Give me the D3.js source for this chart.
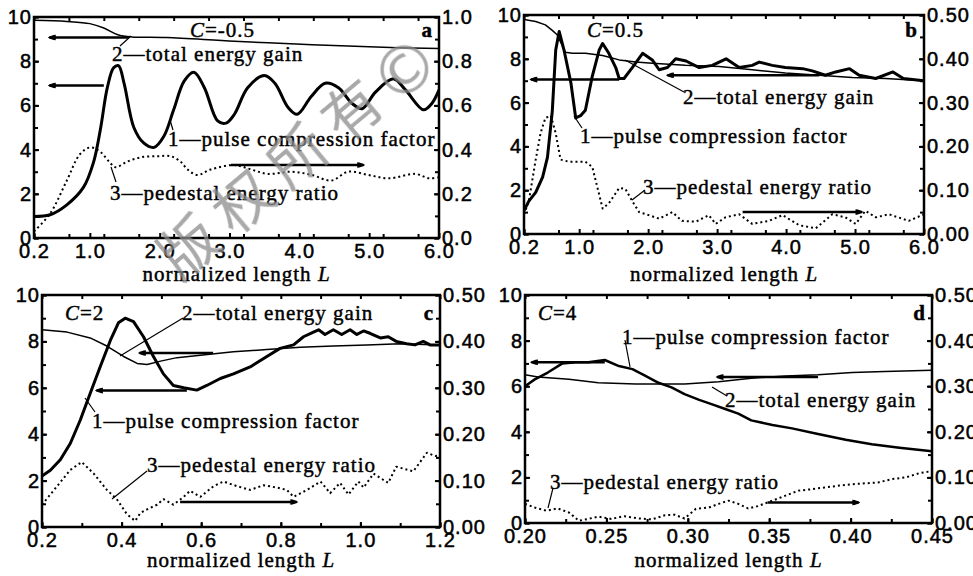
<!DOCTYPE html>
<html>
<head>
<meta charset="utf-8">
<script src="https://cdn.jsdelivr.net/npm/d3@7"></script>
<style>
  body { margin: 0; background: #fff; }
  svg { display: block; font-family: "Liberation Serif", "Times New Roman", serif; }
  .tick text { font-size: 20px; letter-spacing: 1px; fill: #000; stroke: #000; stroke-width: 0.5px; }
  .tick line { stroke: #000; stroke-width: 2px; }
  .lbl { font-size: 21px; letter-spacing: 1px; fill: #000; stroke: #000; stroke-width: 0.45px; }
</style>
</head>
<body>
<svg id="chart" width="973" height="576"></svg>
<script>
// ---- panel a, C=-0.5 ----
const aPulseL = [0.2, 0.43, 0.67, 0.91, 1.05, 1.15, 1.25, 1.34, 1.41, 1.49, 1.63, 1.77, 1.92, 2.06, 2.2, 2.35, 2.49, 2.64, 2.83, 2.95, 3.07, 3.26, 3.5, 3.65, 3.84, 3.97, 4.17, 4.37, 4.56, 4.75, 4.9, 5.09, 5.35, 5.52, 5.78, 5.9, 6.0];
const aPulse = [0.97, 1.05, 1.5, 2.3, 3.4, 4.9, 6.8, 7.7, 7.8, 7.0, 5.0, 4.3, 4.1, 4.6, 5.8, 7.1, 7.5, 6.8, 5.3, 5.2, 5.6, 6.8, 7.35, 7.0, 5.9, 5.6, 6.4, 7.0, 6.8, 6.1, 5.85, 6.6, 7.2, 6.7, 5.8, 6.1, 6.7];
const aGainL = [0.2, 0.67, 1.0, 1.2, 1.4, 1.6, 2.1, 3.07, 4.03, 5.0, 6.0];
const aGain = [9.85, 9.8, 9.7, 9.5, 9.2, 9.1, 9.07, 8.9, 8.77, 8.65, 8.57];
const aPedL = [0.2, 0.43, 0.67, 0.86, 1.01, 1.15, 1.29, 1.37, 1.53, 1.73, 1.97, 2.16, 2.3, 2.4, 2.54, 2.73, 3.07, 3.31, 3.55, 3.89, 4.18, 4.46, 4.7, 4.99, 5.28, 5.66, 5.86, 6.0];
const aPed = [0.03, 0.11, 0.26, 0.38, 0.41, 0.39, 0.34, 0.32, 0.345, 0.365, 0.37, 0.37, 0.345, 0.31, 0.285, 0.31, 0.33, 0.31, 0.29, 0.30, 0.285, 0.26, 0.30, 0.285, 0.27, 0.29, 0.27, 0.275];
const aXTicks = [0.2, 1.0, 2.0, 3.0, 4.0, 5.0, 6.0];
const aRTicks = [0, 0.2, 0.4, 0.6, 0.8, 1.0];

// ---- panel b, C=0.5 ----
const bPulseL = [0.2, 0.27, 0.37, 0.47, 0.54, 0.61, 0.66, 0.71, 0.78, 0.88, 0.95, 1.02, 1.09, 1.19, 1.29, 1.34, 1.43, 1.53, 1.58, 1.65, 1.77, 1.92, 2.06, 2.16, 2.28, 2.4, 2.55, 2.74, 2.93, 3.13, 3.32, 3.51, 3.61, 3.8, 3.99, 4.24, 4.38, 4.57, 4.72, 4.92, 5.06, 5.3, 5.55, 5.7, 6.0];
const bPulse = [1.07, 1.5, 1.9, 2.6, 3.5, 5.6, 8.4, 9.25, 8.4, 6.9, 5.3, 5.4, 5.65, 7.2, 8.4, 8.7, 8.25, 7.6, 7.1, 7.1, 7.6, 8.25, 7.95, 7.5, 7.6, 8.0, 7.9, 7.6, 7.7, 8.0, 7.6, 7.7, 7.85, 7.7, 7.6, 7.55, 7.45, 7.25, 7.4, 7.55, 7.25, 7.1, 7.4, 7.1, 7.0];
const bGainL = [0.2, 0.37, 0.51, 0.61, 0.68, 0.8, 0.9, 1.09, 1.34, 1.58, 1.82, 2.06, 2.54, 3.03, 3.51, 3.99, 4.48, 4.96, 5.44, 6.0];
const bGain = [9.8, 9.7, 9.55, 9.3, 9.1, 8.3, 8.25, 8.25, 8.15, 7.95, 7.85, 7.8, 7.7, 7.65, 7.5, 7.35, 7.25, 7.15, 7.1, 7.0];
const bPedL = [0.2, 0.27, 0.37, 0.44, 0.51, 0.59, 0.66, 0.73, 0.85, 1.09, 1.19, 1.29, 1.34, 1.43, 1.58, 1.67, 1.77, 1.87, 2.01, 2.16, 2.35, 2.49, 2.69, 2.88, 2.98, 3.12, 3.32, 3.51, 3.75, 3.95, 4.19, 4.43, 4.67, 4.86, 5.01, 5.15, 5.3, 5.49, 5.78, 6.0];
const bPed = [0.045, 0.075, 0.17, 0.23, 0.265, 0.27, 0.23, 0.17, 0.165, 0.165, 0.153, 0.09, 0.058, 0.07, 0.105, 0.103, 0.075, 0.05, 0.043, 0.035, 0.05, 0.03, 0.028, 0.043, 0.023, 0.038, 0.045, 0.023, 0.03, 0.043, 0.02, 0.013, 0.045, 0.038, 0.023, 0.053, 0.038, 0.045, 0.03, 0.045];
const bXTicks = [0.2, 1.0, 2.0, 3.0, 4.0, 5.0, 6.0];
const bRTicks = [0, 0.1, 0.2, 0.3, 0.4, 0.5];

// ---- panel c, C=2 ----
const cPulseL = [0.2, 0.221, 0.246, 0.271, 0.296, 0.321, 0.346, 0.372, 0.392, 0.409, 0.43, 0.455, 0.48, 0.505, 0.53, 0.556, 0.589, 0.614, 0.648, 0.681, 0.723, 0.765, 0.798, 0.832, 0.857, 0.882, 0.895, 0.911, 0.932, 0.953, 0.974, 0.991, 1.008, 1.024, 1.05, 1.07, 1.09, 1.116, 1.137, 1.158, 1.175, 1.2];
const cPulse = [2.2, 2.45, 2.9, 3.6, 4.6, 5.75, 6.9, 8.05, 8.8, 9.0, 8.85, 8.2, 7.35, 6.6, 6.1, 6.0, 5.9, 6.1, 6.4, 6.6, 6.9, 7.35, 7.7, 7.85, 8.2, 8.4, 8.5, 8.3, 8.5, 8.3, 8.5, 8.3, 8.45, 8.35, 8.15, 8.2, 8.0, 7.9, 7.85, 8.0, 7.85, 7.85];
const cGainL = [0.2, 0.263, 0.321, 0.363, 0.405, 0.439, 0.464, 0.498, 0.539, 0.598, 0.681, 0.765, 0.849, 0.932, 1.016, 1.1, 1.2];
const cGain = [8.5, 8.4, 8.15, 7.8, 7.35, 7.05, 7.0, 7.15, 7.3, 7.4, 7.55, 7.65, 7.75, 7.8, 7.85, 7.9, 7.85];
const cPedL = [0.2, 0.238, 0.271, 0.3, 0.33, 0.363, 0.388, 0.413, 0.434, 0.447, 0.464, 0.489, 0.505, 0.53, 0.556, 0.572, 0.598, 0.631, 0.656, 0.69, 0.723, 0.757, 0.79, 0.815, 0.832, 0.866, 0.9, 0.924, 0.949, 0.97, 0.995, 1.008, 1.033, 1.07, 1.09, 1.133, 1.167, 1.188, 1.2];
const cPed = [0.048, 0.088, 0.123, 0.14, 0.115, 0.08, 0.06, 0.028, 0.013, 0.03, 0.038, 0.048, 0.06, 0.048, 0.065, 0.078, 0.065, 0.088, 0.098, 0.088, 0.08, 0.09, 0.085, 0.08, 0.065, 0.08, 0.098, 0.073, 0.095, 0.07, 0.098, 0.085, 0.115, 0.095, 0.13, 0.12, 0.16, 0.153, 0.155];
const cXTicks = [0.2, 0.4, 0.6, 0.8, 1.0, 1.2];
const cRTicks = [0, 0.1, 0.2, 0.3, 0.4, 0.5];

// ---- panel d, C=4 ----
const dPulseL = [0.2, 0.206, 0.214, 0.223, 0.231, 0.239, 0.249, 0.257, 0.266, 0.274, 0.282, 0.29, 0.298, 0.307, 0.315, 0.323, 0.331, 0.339, 0.352, 0.364, 0.38, 0.397, 0.413, 0.43, 0.45];
const dPulse = [6.0, 6.3, 6.6, 7.0, 7.05, 7.05, 7.15, 6.9, 6.75, 6.45, 6.15, 5.95, 5.65, 5.4, 5.2, 5.0, 4.8, 4.5, 4.3, 4.15, 3.9, 3.65, 3.45, 3.3, 3.15];
const dGainL = [0.2, 0.208, 0.227, 0.245, 0.268, 0.298, 0.319, 0.339, 0.36, 0.38, 0.401, 0.421, 0.45];
const dGain = [6.5, 6.4, 6.3, 6.15, 6.1, 6.1, 6.2, 6.35, 6.45, 6.5, 6.6, 6.65, 6.7];
const dPedL = [0.2, 0.206, 0.213, 0.22, 0.227, 0.233, 0.239, 0.245, 0.253, 0.261, 0.27, 0.278, 0.286, 0.292, 0.298, 0.305, 0.313, 0.319, 0.325, 0.331, 0.337, 0.343, 0.352, 0.36, 0.368, 0.376, 0.384, 0.393, 0.401, 0.409, 0.417, 0.425, 0.434, 0.442, 0.45];
const dPed = [0.042, 0.034, 0.027, 0.032, 0.023, 0.005, 0.009, 0.014, 0.009, 0.015, 0.01, 0.008, 0.017, 0.018, 0.01, 0.031, 0.034, 0.042, 0.049, 0.042, 0.032, 0.037, 0.049, 0.06, 0.071, 0.074, 0.078, 0.082, 0.085, 0.087, 0.089, 0.096, 0.1, 0.109, 0.114];
const dXTicks = [0.20, 0.25, 0.30, 0.35, 0.40, 0.45];
const dRTicks = [0, 0.1, 0.2, 0.3, 0.4, 0.5];

const leftTicks = [0, 2, 4, 6, 8, 10];

const svg = d3.select(`#chart`);

const defs = svg.append(`defs`);
defs.append(`marker`)
  .attr(`id`, `head`)
  .attr(`viewBox`, `0 -5 10 10`)
  .attr(`refX`, 8)
  .attr(`markerUnits`, `userSpaceOnUse`)
  .attr(`markerWidth`, 11)
  .attr(`markerHeight`, 8)
  .attr(`orient`, `auto`)
  .append(`path`)
    .attr(`d`, `M0,-3.5C4,-3.5 7,-1.5 10,0C7,1.5 4,3.5 0,3.5Z`)
    .attr(`fill`, `#000`);

class Panel {
  constructor(opts) {
    Object.assign(this, opts);
    this.g = svg.append(`g`).attr(`class`, `panel panel-${this.id}`);
  }

  render() {
    const b = this.box;
    this.x = d3.scaleLinear().domain(this.xDomain).range([b.left, b.right]);
    this.yL = d3.scaleLinear().domain([0, 10]).range([b.bottom, b.top]);
    this.yR = d3.scaleLinear().domain(this.rDomain).range([b.bottom, b.top]);

    this.drawAxes();
    this.drawCurves();
    this.drawArrows();
    this.drawLabels();

    // frame
    this.g.append(`rect`)
      .attr(`x`, b.left).attr(`y`, b.top)
      .attr(`width`, b.right - b.left).attr(`height`, b.bottom - b.top)
      .attr(`fill`, `none`).attr(`stroke`, `#000`).attr(`stroke-width`, 2.5);
  }

  drawAxes() {
    const b = this.box;
    const xMinor = d3.range(this.xDomain[0], this.xDomain[1] + 1e-9, this.xMinorStep);
    const rStep = this.rTicks[1] - this.rTicks[0];
    const rMinor = d3.range(0, this.rDomain[1] + 1e-9, rStep / 2);

    const fmtX = d3.format(this.xFormat);
    const fmtR = d3.format(this.rFormat);

    // bottom
    this.g.append(`g`).attr(`transform`, `translate(0,${b.bottom})`)
      .call(d3.axisBottom(this.x).tickValues(xMinor).tickFormat(``).tickSize(-4));
    this.g.append(`g`).attr(`transform`, `translate(0,${b.bottom})`)
      .call(d3.axisBottom(this.x).tickValues(this.xTicks).tickFormat(fmtX).tickSize(-5).tickPadding(6));
    // top
    this.g.append(`g`).attr(`transform`, `translate(0,${b.top})`)
      .call(d3.axisTop(this.x).tickValues(xMinor).tickFormat(``).tickSize(-4));
    // left
    this.g.append(`g`).attr(`transform`, `translate(${b.left},0)`)
      .call(d3.axisLeft(this.yL).tickValues(d3.range(0, 11, 1)).tickFormat(``).tickSize(-4));
    this.g.append(`g`).attr(`transform`, `translate(${b.left},0)`)
      .call(d3.axisLeft(this.yL).tickValues(leftTicks).tickFormat(d3.format(`d`)).tickSize(-5).tickPadding(2));
    // right
    this.g.append(`g`).attr(`transform`, `translate(${b.right},0)`)
      .call(d3.axisRight(this.yR).tickValues(rMinor).tickFormat(``).tickSize(-4));
    this.g.append(`g`).attr(`transform`, `translate(${b.right},0)`)
      .call(d3.axisRight(this.yR).tickValues(this.rTicks).tickFormat(fmtR).tickSize(-5).tickPadding(3));

    this.g.selectAll(`.domain`).remove();
    this.g.selectAll(`.tick text`).attr(`font-family`, null).attr(`font-size`, null);

    // axis title
    const t = this.g.append(`text`)
      .attr(`class`, `lbl`)
      .attr(`x`, (b.left + b.right) / 2)
      .attr(`y`, b.bottom + this.titleDy)
      .attr(`text-anchor`, `middle`);
    t.append(`tspan`).text(`normalized length `);
    t.append(`tspan`).attr(`font-style`, `italic`).text(`L`);
  }

  drawCurves() {
    const b = this.box;
    const clipId = `clip-${this.id}`;
    defs.append(`clipPath`).attr(`id`, clipId)
      .append(`rect`)
      .attr(`x`, b.left).attr(`y`, b.top - 2)
      .attr(`width`, b.right - b.left).attr(`height`, b.bottom - b.top + 2);

    const styles = {
      pulse: {w: this.pulseWidth, dash: null},
      gain: {w: 1.5, dash: null},
      ped: {w: 2, dash: `2,3`},
    };

    this.curves.forEach((c) => {
      const yScale = c.axis === `right` ? this.yR : this.yL;
      const line = d3.line()
        .x(d => this.x(d[0]))
        .y(d => yScale(d[1]))
        .curve(this.smooth ? d3.curveCatmullRom.alpha(0.5) : d3.curveLinear);
      const s = styles[c.kind];
      this.g.append(`path`)
        .datum(d3.zip(c.xs, c.ys))
        .attr(`clip-path`, `url(#${clipId})`)
        .attr(`d`, line)
        .attr(`fill`, `none`)
        .attr(`stroke`, `#000`)
        .attr(`stroke-width`, s.w)
        .attr(`stroke-linejoin`, `round`)
        .attr(`stroke-dasharray`, s.dash);
    });
  }

  drawArrows() {
    this.arrows.forEach((a) => {
      const yScale = a.axis === `right` ? this.yR : this.yL;
      this.g.append(`line`)
        .attr(`x1`, this.x(a.from)).attr(`x2`, this.x(a.to))
        .attr(`y1`, yScale(a.y)).attr(`y2`, yScale(a.y))
        .attr(`stroke`, `#000`)
        .attr(`stroke-width`, 2.5)
        .attr(`marker-end`, `url(#head)`);
    });
  }

  drawLabels() {
    const b = this.box;
    // chirp parameter and panel letter
    const ct = this.g.append(`text`).attr(`class`, `lbl`)
      .attr(`x`, b.left + this.cPos[0]).attr(`y`, b.top + this.cPos[1]);
    ct.append(`tspan`).attr(`font-style`, `italic`).text(`C`);
    ct.append(`tspan`).text(`=${this.cText}`);

    this.g.append(`text`).attr(`class`, `lbl`)
      .attr(`x`, b.right - 6).attr(`y`, b.top + this.cPos[1])
      .attr(`text-anchor`, `end`)
      .attr(`font-weight`, `bold`)
      .text(this.id);

    this.labels.forEach((l) => {
      this.g.append(`line`)
        .attr(`x1`, b.left + l.leader[0]).attr(`y1`, b.top + l.leader[1])
        .attr(`x2`, b.left + l.leader[2]).attr(`y2`, b.top + l.leader[3])
        .attr(`stroke`, `#000`).attr(`stroke-width`, 1.2);
      this.g.append(`text`).attr(`class`, `lbl`)
        .attr(`x`, b.left + l.x).attr(`y`, b.top + l.y)
        .text(`${l.n}\u2014${l.text}`);
    });
  }
}

const PULSE = `pulse compression factor`;
const GAIN = `total energy gain`;
const PED = `pedestal energy ratio`;

const panels = [
  {
    id: `a`, box: {left: 34, right: 439, top: 17, bottom: 238},
    xDomain: [0.2, 6.0], xTicks: aXTicks, xMinorStep: 0.5, xFormat: `.1f`,
    rDomain: [0, 1.0], rTicks: aRTicks, rFormat: `.1f`,
    smooth: true, pulseWidth: 3, titleDy: 43,
    cText: `-0.5`, cPos: [156, 20],
    curves: [
      {xs: aPulseL, ys: aPulse, axis: `left`, kind: `pulse`},
      {xs: aGainL, ys: aGain, axis: `left`, kind: `gain`},
      {xs: aPedL, ys: aPed, axis: `right`, kind: `ped`},
    ],
    arrows: [
      {from: 1.56, to: 0.42, y: 9.07, axis: `left`},
      {from: 1.2, to: 0.42, y: 6.9, axis: `left`},
      {from: 3.02, to: 4.92, y: 0.33, axis: `right`},
    ],
    labels: [
      {n: 2, text: GAIN, x: 78, y: 44, leader: [86, 29, 97, 19]},
      {n: 1, text: PULSE, x: 134, y: 129, leader: [139, 113, 136, 103]},
      {n: 3, text: PED, x: 76, y: 183, leader: [82, 165, 77, 150]},
    ],
  },
  {
    id: `b`, box: {left: 524, right: 924, top: 15, bottom: 234},
    xDomain: [0.2, 6.0], xTicks: bXTicks, xMinorStep: 0.5, xFormat: `.1f`,
    rDomain: [0, 0.5], rTicks: bRTicks, rFormat: `.2f`,
    smooth: false, pulseWidth: 3, titleDy: 47,
    cText: `0.5`, cPos: [63, 22],
    curves: [
      {xs: bPulseL, ys: bPulse, axis: `left`, kind: `pulse`},
      {xs: bGainL, ys: bGain, axis: `left`, kind: `gain`},
      {xs: bPedL, ys: bPed, axis: `right`, kind: `ped`},
    ],
    arrows: [
      {from: 1.58, to: 0.3, y: 7.05, axis: `left`},
      {from: 4.48, to: 2.28, y: 7.25, axis: `left`},
      {from: 3.37, to: 5.1, y: 0.05, axis: `right`},
    ],
    labels: [
      {n: 2, text: GAIN, x: 159, y: 89, leader: [160, 77, 101, 45]},
      {n: 1, text: PULSE, x: 56, y: 128, leader: [58, 113, 50, 101]},
      {n: 3, text: PED, x: 119, y: 179, leader: [121, 175, 108, 185]},
    ],
  },
  {
    id: `c`, box: {left: 42, right: 440, top: 295, bottom: 527},
    xDomain: [0.2, 1.2], xTicks: cXTicks, xMinorStep: 0.1, xFormat: `.1f`,
    rDomain: [0, 0.5], rTicks: cRTicks, rFormat: `.2f`,
    smooth: false, pulseWidth: 3, titleDy: 40,
    cText: `2`, cPos: [23, 25],
    curves: [
      {xs: cPulseL, ys: cPulse, axis: `left`, kind: `pulse`},
      {xs: cGainL, ys: cGain, axis: `left`, kind: `gain`},
      {xs: cPedL, ys: cPed, axis: `right`, kind: `ped`},
    ],
    arrows: [
      {from: 0.63, to: 0.445, y: 7.5, axis: `left`},
      {from: 0.564, to: 0.337, y: 5.88, axis: `left`},
      {from: 0.547, to: 0.84, y: 0.054, axis: `right`},
    ],
    labels: [
      {n: 2, text: GAIN, x: 140, y: 25, leader: [141, 23, 78, 61]},
      {n: 1, text: PULSE, x: 50, y: 133, leader: [53, 117, 43, 103]},
      {n: 3, text: PED, x: 105, y: 177, leader: [105, 176, 70, 204]},
    ],
  },
  {
    id: `d`, box: {left: 525, right: 932, top: 295, bottom: 523},
    xDomain: [0.2, 0.45], xTicks: dXTicks, xMinorStep: 0.025, xFormat: `.2f`,
    rDomain: [0, 0.5], rTicks: dRTicks, rFormat: `.2f`,
    smooth: false, pulseWidth: 2.5, titleDy: 44,
    cText: `4`, cPos: [13, 25],
    curves: [
      {xs: dPulseL, ys: dPulse, axis: `left`, kind: `pulse`},
      {xs: dGainL, ys: dGain, axis: `left`, kind: `gain`},
      {xs: dPedL, ys: dPed, axis: `right`, kind: `ped`},
    ],
    arrows: [
      {from: 0.249, to: 0.204, y: 7.05, axis: `left`},
      {from: 0.38, to: 0.318, y: 6.4, axis: `left`},
      {from: 0.349, to: 0.405, y: 0.045, axis: `right`},
    ],
    labels: [
      {n: 1, text: PULSE, x: 97, y: 49, leader: [100, 45, 105, 72]},
      {n: 2, text: GAIN, x: 200, y: 112, leader: [202, 101, 187, 92]},
      {n: 3, text: PED, x: 25, y: 194, leader: [28, 193, 23, 213]},
    ],
  },
];

panels.forEach(p => new Panel(p).render());

// watermark
const wm = svg.append(`g`)
  .attr(`fill`, `#8c8c8c`)
  .attr(`opacity`, 0.75)
  .attr(`font-family`, `"Noto Sans CJK SC", sans-serif`);
wm.append(`text`)
  .attr(`transform`, `translate(180,282) rotate(-40)`)
  .attr(`font-size`, 58)
  .attr(`letter-spacing`, 13)
  .text(`版权所有`);
wm.append(`text`)
  .attr(`transform`, `translate(405,70) rotate(-40)`)
  .attr(`text-anchor`, `middle`)
  .attr(`dy`, `0.35em`)
  .attr(`font-family`, `"DejaVu Sans", sans-serif`)
  .attr(`font-size`, 66)
  .text(`©`);
</script>
</body>
</html>
